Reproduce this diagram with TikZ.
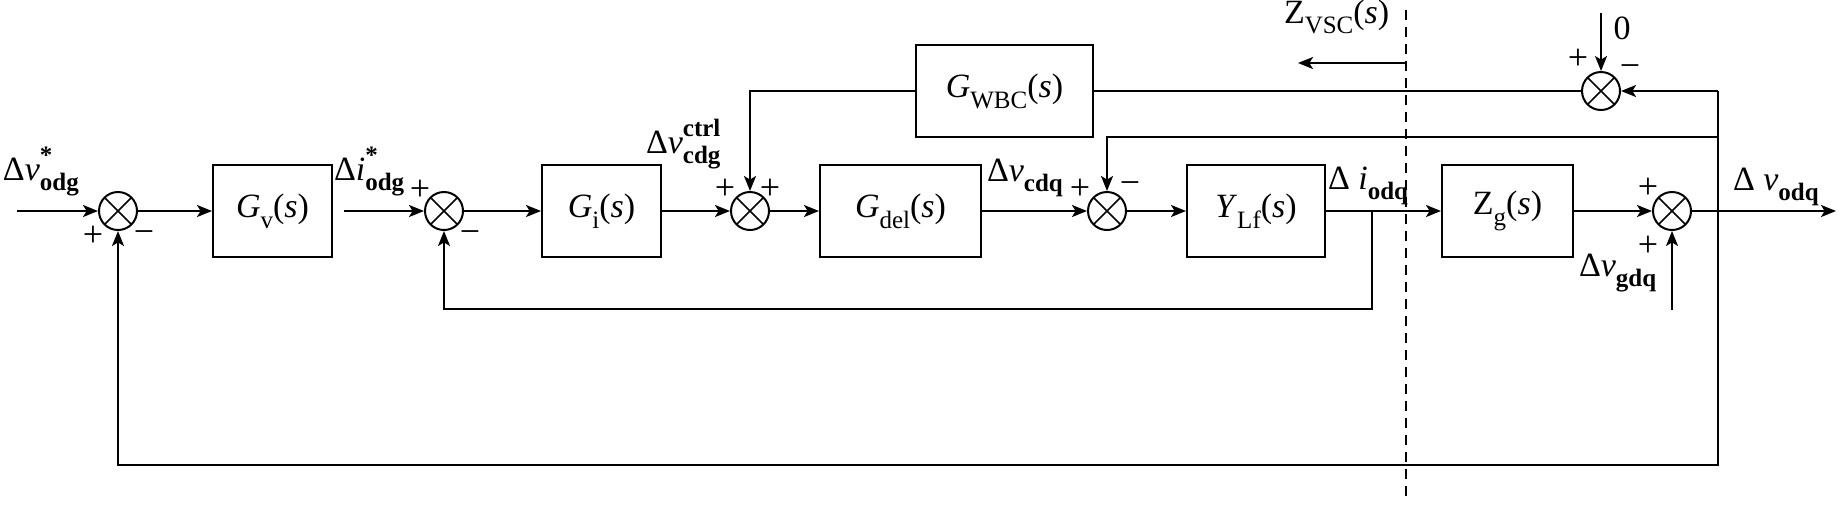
\documentclass[tikz,border=0pt]{standalone}
\usepackage{fontspec}
\setmainfont{Liberation Serif}
\usetikzlibrary{arrows.meta}
\newcommand{\lo}[1]{\raisebox{-0.32em}{\fontsize{12.5}{14}\selectfont #1}}
\newcommand{\hi}[1]{\raisebox{0.5em}{\fontsize{12.5}{14}\selectfont #1}}
\newcommand{\hilo}[2]{\makebox[0pt][l]{\hi{#1}}\lo{#2}}
\begin{document}
\begin{tikzpicture}[x=0.5pt,y=-0.5pt,line width=1pt,
  >={Stealth[length=7.5pt,width=6pt,inset=1.8pt]},
  every node/.style={font=\fontsize{17}{20}\selectfont},
  blk/.style={draw,rectangle,minimum height=46pt,inner sep=0pt},
  sumj/.style={draw,circle,minimum size=19pt,inner sep=0pt,
    path picture={\draw[line width=0.8pt]
      (path picture bounding box.north west) -- (path picture bounding box.south east)
      (path picture bounding box.north east) -- (path picture bounding box.south west);}},
  lbl/.style={inner sep=0pt},
  sgn/.style={inner sep=0pt,font=\fontsize{18}{20}\selectfont}]
\useasboundingbox (0,0) rectangle (1840,505);

% blocks
\node[blk,minimum width=59.5pt] (Gv) at (272.5,211) {\textit{G}\lo{v}(\textit{s})};
\node[blk,minimum width=59.5pt] (Gi) at (601.5,211) {\textit{G}\lo{i}(\textit{s})};
\node[blk,minimum width=80.5pt] (Gd) at (900.5,211) {\textit{G}\lo{del}(\textit{s})};
\node[blk,minimum width=69pt] (Y) at (1256,211) {\textit{Y}\lo{Lf}(\textit{s})};
\node[blk,minimum width=65.5pt] (Zg) at (1507.5,211) {Z\lo{g}(\textit{s})};
\node[blk,minimum width=88.5pt] (Gw) at (1004.5,91) {\textit{G}\lo{WBC}(\textit{s})};

% summing junctions
\node[sumj] (s1) at (118,211) {};
\node[sumj] (s2) at (444,211) {};
\node[sumj] (s3) at (750,211) {};
\node[sumj] (s4) at (1107,211) {};
\node[sumj] (s5) at (1601,91) {};
\node[sumj] (s6) at (1672,211) {};

% coordinates
\coordinate (in) at (17,211);
\coordinate (out) at (1836,211);
\coordinate (b1) at (1372,211);
\coordinate (b1d) at (1372,309);
\coordinate (s2d) at (444,309);
\coordinate (rt) at (1718,91);
\coordinate (rm) at (1718,137);
\coordinate (rb) at (1718,465);
\coordinate (s1d) at (118,465);
\coordinate (s4u) at (1107,137);
\coordinate (s3u) at (750,91);
\coordinate (zero) at (1601,13);
\coordinate (vg) at (1672,310);
\coordinate (dt) at (1406,10);
\coordinate (db) at (1406,497);
\coordinate (za) at (1406,63);
\coordinate (zb) at (1298,63);

% forward path
\draw[->] (in) -- (s1.west);
\draw[->] (s1.east) -- (Gv.west);
\draw[->] ([xshift=5.5pt]Gv.east) -- (s2.west);
\draw[->] (s2.east) -- (Gi.west);
\draw[->] (Gi.east) -- (s3.west);
\draw[->] (s3.east) -- (Gd.west);
\draw[->] (Gd.east) -- (s4.west);
\draw[->] (s4.east) -- (Y.west);
\draw[->] (Y.east) -- (Zg.west);
\draw[->] (Zg.east) -- (s6.west);
\draw[->] (s6.east) -- (out);

% feedbacks
\draw[->] (b1) -- (b1d) -- (s2d) -- (s2.south);
\draw[->] (rt) -- (s5.east);
\draw[->] (rt) -- (rb) -- (s1d) -- (s1.south);
\draw[->] (rm) -- (s4u) -- (s4.north);
\draw (s5.west) -- (Gw.east);
\draw[->] (Gw.west) -- (s3u) -- (s3.north);
\draw[->] (zero) -- (s5.north);
\draw[->] (vg) -- (s6.south);

% dashed boundary
\draw[dash pattern=on 5pt off 3.5pt] (dt) -- (db);
\draw[->] (za) -- (zb);

% labels
\node[lbl,anchor=base west] (l1) at (2,180) {Δ\textit{v}\hilo{\textbf{*}}{\textbf{odg}}};
\node[lbl,anchor=base west] (l2) at (333,180) {Δ\textit{i}\hilo{\textbf{*}}{\textbf{odg}}};
\node[lbl,anchor=base west] (l3) at (645,153) {Δ\textit{v}\hilo{\textbf{ctrl}}{\textbf{cdg}}};
\node[lbl,anchor=base west] (l4) at (986,181) {Δ\textit{v}\lo{\textbf{cdq}}};
\node[lbl,anchor=base west] (l5) at (1327,189) {Δ \textit{i}\lo{\textbf{odq}}};
\node[lbl,anchor=base west] (l6) at (1732,190) {Δ \textit{v}\lo{\textbf{odq}}};
\node[lbl,anchor=base west] (l7) at (1578,276) {Δ\textit{v}\lo{\textbf{gdq}}};
\node[lbl,anchor=base west] (l8) at (1283,23) {Z\lo{VSC}(\textit{s})};
\node[lbl] (l9) at (1622,28) {0};

% signs
\node[sgn] (p1) at (93,236) {+};
\node[sgn] (m1) at (144,237) {−};
\node[sgn] (p2) at (420,190) {+};
\node[sgn] (m2) at (470,237) {−};
\node[sgn] (p3) at (725,189) {+};
\node[sgn] (p3b) at (770,189) {+};
\node[sgn] (p4) at (1080,189) {+};
\node[sgn] (m4) at (1130,188) {−};
\node[sgn] (p5) at (1578,59) {+};
\node[sgn] (m5) at (1630,71) {−};
\node[sgn] (p6) at (1648,188) {+};
\node[sgn] (p6b) at (1648,246) {+};
\end{tikzpicture}
\end{document}
